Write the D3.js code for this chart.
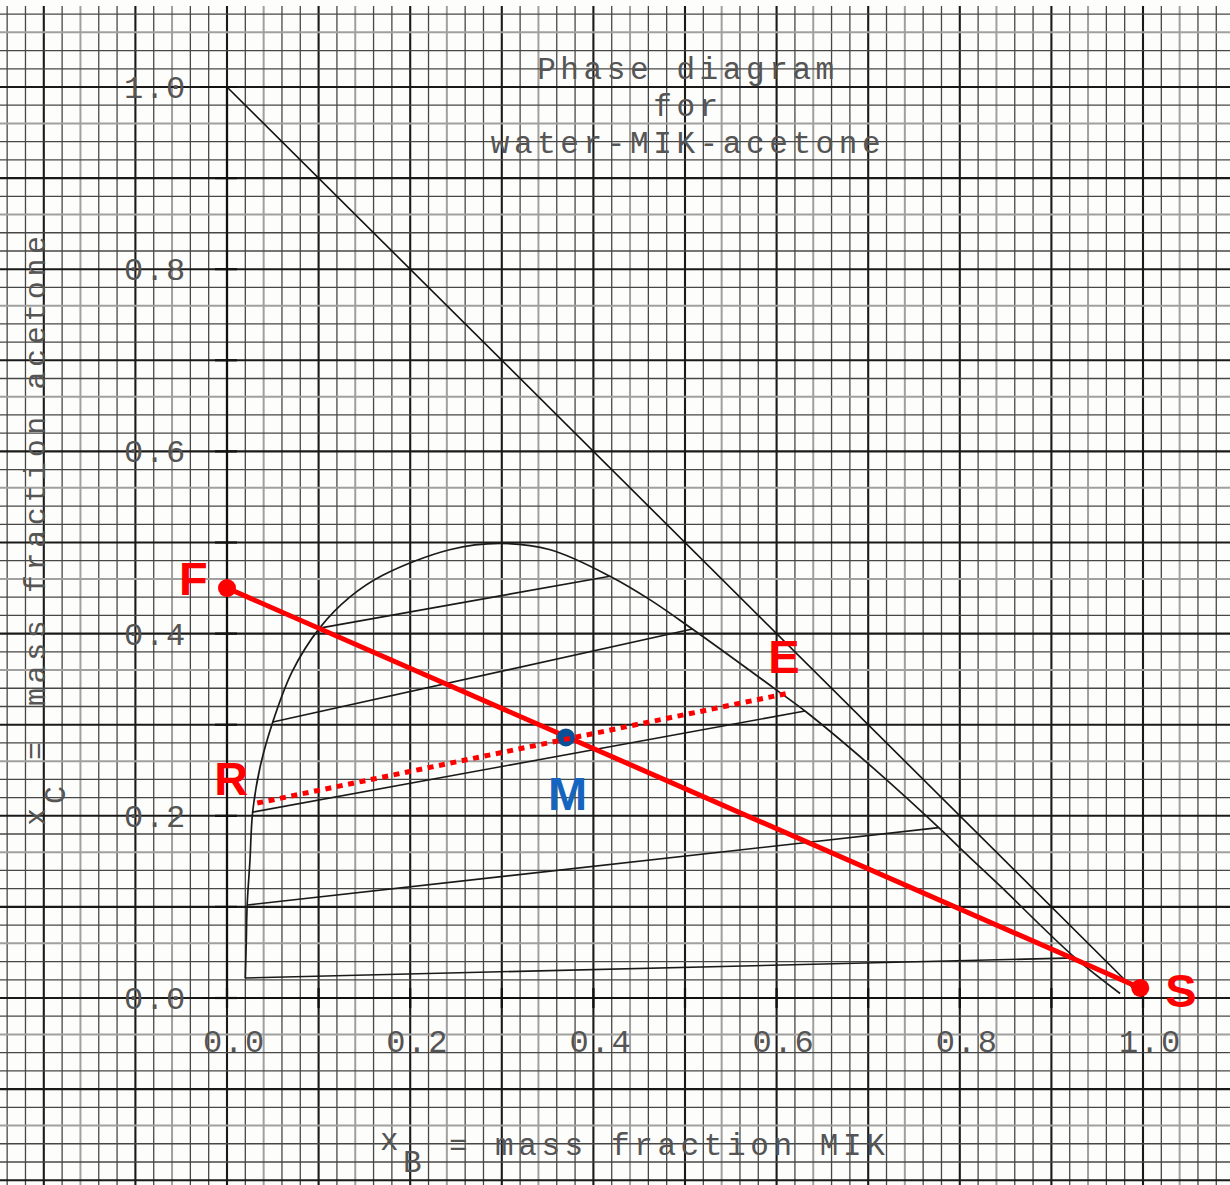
<!DOCTYPE html>
<html>
<head>
<meta charset="utf-8">
<script src="https://cdn.jsdelivr.net/npm/d3@7/dist/d3.min.js"></script>
<style>
  html, body { margin: 0; padding: 0; background: #fdfdfb; }
  svg { display: block; }
</style>
</head>
<body>
<svg id="chart" width="1230" height="1185"></svg>
<script>
// ---------------- DATA ----------------
const titleLines = ["Phase diagram", "for", "water-MIK-acetone"];
const xTickValues = [0, 0.2, 0.4, 0.6, 0.8, 1.0];
const xTickLabels = ["0.0", "0.2", "0.4", "0.6", "0.8", "1.0"];
const yTickValues = [0, 0.2, 0.4, 0.6, 0.8, 1.0];
const yTickLabels = ["0.0", "0.2", "0.4", "0.6", "0.8", "1.0"];

// binodal (solubility) curve
const binodalX = [0.020, 0.021, 0.022, 0.025, 0.028, 0.036, 0.050, 0.071, 0.101, 0.134, 0.170, 0.243, 0.298, 0.353, 0.418, 0.462, 0.508, 0.600, 0.631, 0.699, 0.777, 0.806, 0.844, 0.926, 0.975];
const binodalY = [0.022, 0.060, 0.102, 0.150, 0.204, 0.253, 0.303, 0.358, 0.406, 0.440, 0.464, 0.492, 0.499, 0.492, 0.463, 0.437, 0.405, 0.338, 0.315, 0.258, 0.187, 0.159, 0.123, 0.044, 0.005];

// tie lines: raffinate end (left) -> extract end (right)
const tieLeftX  = [0.020, 0.022, 0.028, 0.050, 0.101];
const tieLeftY  = [0.022, 0.102, 0.204, 0.303, 0.406];
const tieRightX = [0.926, 0.777, 0.631, 0.508, 0.418];
const tieRightY = [0.044, 0.187, 0.315, 0.405, 0.463];

// operating points
const pointNames = ["F", "S", "M", "R", "E"];
const pointX = [0.000, 0.997, 0.370, 0.033, 0.615];
const pointY = [0.450, 0.011, 0.286, 0.214, 0.335];

// ---------------- SCALES ----------------
const W = 1230, H = 1185;
const x = d3.scaleLinear().domain([0, 1]).range([227, 1143]);
const y = d3.scaleLinear().domain([0, 1]).range([998, 87]);

const svg = d3.select("#chart");
const P = {};
pointNames.forEach((n, i) => P[n] = [pointX[i], pointY[i]]);

// ---------------- GRAPH PAPER ----------------
const xMin = x.invert(0), xMax = x.invert(W);
const yMin = y.invert(H), yMax = y.invert(6);
const gStep = 0.02;
const vLines = d3.range(Math.ceil(xMin / gStep), Math.floor(xMax / gStep) + 1);
const hLines = d3.range(Math.ceil(yMin / gStep), Math.floor(yMax / gStep) + 1);
const mod5 = k => ((k % 5) + 5) % 5;
const lineColor = (k, lightMod) => mod5(k) === 0 ? "#1a1a1a" : (mod5(k) === lightMod ? "#a0a0a0" : "#474747");
const lineWidth = (k, lightMod) => mod5(k) === 0 ? 2.1 : (mod5(k) === lightMod ? 2 : 1.3);

const grid = svg.append("g").attr("class", "grid");
grid.selectAll("line.v").data(vLines).join("line").attr("class", "v")
  .attr("x1", k => x(k * gStep)).attr("x2", k => x(k * gStep))
  .attr("y1", 6).attr("y2", H)
  .attr("stroke", k => lineColor(k, 2))
  .attr("stroke-width", k => lineWidth(k, 2));
grid.selectAll("line.h").data(hLines).join("line").attr("class", "h")
  .attr("y1", k => y(k * gStep)).attr("y2", k => y(k * gStep))
  .attr("x1", 0).attr("x2", W)
  .attr("stroke", k => lineColor(k, 3))
  .attr("stroke-width", k => lineWidth(k, 3));

// ---------------- AXES ----------------
const axisG = svg.append("g").attr("stroke", "#111").attr("stroke-width", 2.2);
axisG.append("line").attr("x1", x(0)).attr("x2", x(0)).attr("y1", y(0)).attr("y2", y(1));
axisG.append("line").attr("x1", x(0) - 25).attr("x2", x(1)).attr("y1", y(0)).attr("y2", y(0));
const minorTicks = d3.range(0, 11).map(i => i / 10);
axisG.selectAll("line.yt").data(minorTicks).join("line").attr("class", "yt")
  .attr("x1", d => x(0) - (d === 1 ? 27 : 12)).attr("x2", x(0) + 10)
  .attr("y1", d => y(d)).attr("y2", d => y(d));
axisG.selectAll("line.xt").data(minorTicks).join("line").attr("class", "xt")
  .attr("y1", y(0) - 10).attr("y2", y(0) + 10)
  .attr("x1", d => x(d)).attr("x2", d => x(d));

// tick labels (typewriter style)
const mono = "'Courier New', 'Liberation Mono', 'DejaVu Sans Mono', monospace";
svg.append("g").selectAll("text").data(yTickValues).join("text")
  .attr("x", 124).attr("y", d => y(d) + 11)
  .attr("font-family", mono).attr("font-size", 32).attr("letter-spacing", 1.8)
  .attr("fill", "#555")
  .text((d, i) => yTickLabels[i]);
svg.append("g").selectAll("text").data(xTickValues).join("text")
  .attr("x", d => x(d) - 24).attr("y", 1052)
  .attr("font-family", mono).attr("font-size", 32).attr("letter-spacing", 1.8)
  .attr("fill", "#555")
  .text((d, i) => xTickLabels[i]);

// title
svg.append("g").selectAll("text").data(titleLines).join("text")
  .attr("x", 688).attr("y", (d, i) => 79 + i * 37)
  .attr("text-anchor", "middle")
  .attr("font-family", mono).attr("font-size", 31).attr("letter-spacing", 4.6)
  .attr("fill", "#555")
  .text(d => d);

// x axis label (typewriter subscript: B typed in the next cell, half a line down)
const xl = svg.append("g").attr("font-family", mono).attr("font-size", 31)
  .attr("letter-spacing", 4.6).attr("fill", "#555");
xl.append("text").attr("x", 380).attr("y", 1150).text("x");
xl.append("text").attr("x", 403).attr("y", 1172).text("B");
xl.append("text").attr("x", 449).attr("y", 1155).text("=");
xl.append("text").attr("x", 495).attr("y", 1155).text("mass fraction MIK");

// y axis label (rotated)
const yl = svg.append("g").attr("transform", "translate(45,826) rotate(-90)")
  .attr("font-family", mono).attr("font-size", 30)
  .attr("letter-spacing", 4.6).attr("fill", "#555");
yl.append("text").attr("x", 0).attr("y", 0).text("x");
yl.append("text").attr("x", 22).attr("y", 20).text("C");
yl.append("text").attr("x", 66).attr("y", 0).text("=");
yl.append("text").attr("x", 120).attr("y", 0).text("mass fraction acetone");

// ---------------- PHASE DIAGRAM ----------------
// hypotenuse of the right triangle
svg.append("line")
  .attr("x1", x(0)).attr("y1", y(1)).attr("x2", x(1)).attr("y2", y(0))
  .attr("stroke", "#111").attr("stroke-width", 1.6);

// binodal curve
const binodal = binodalX.map((v, i) => [v, binodalY[i]]);
svg.append("path").datum(binodal)
  .attr("fill", "none").attr("stroke", "#1a1a1a").attr("stroke-width", 1.7)
  .attr("d", d3.line().x(d => x(d[0])).y(d => y(d[1])).curve(d3.curveCatmullRom.alpha(0.5)));

// tie lines
const ties = tieLeftX.map((v, i) => ({ x1: v, y1: tieLeftY[i], x2: tieRightX[i], y2: tieRightY[i] }));
svg.append("g").selectAll("line").data(ties).join("line")
  .attr("x1", d => x(d.x1)).attr("y1", d => y(d.y1))
  .attr("x2", d => x(d.x2)).attr("y2", d => y(d.y2))
  .attr("stroke", "#1a1a1a").attr("stroke-width", 1.6);

// F - S mixing line
svg.append("line")
  .attr("x1", x(P.F[0])).attr("y1", y(P.F[1])).attr("x2", x(P.S[0])).attr("y2", y(P.S[1]))
  .attr("stroke", "#ff0000").attr("stroke-width", 5);

// F and S dots
svg.append("g").selectAll("circle").data(["F", "S"]).join("circle")
  .attr("cx", n => x(P[n][0])).attr("cy", n => y(P[n][1])).attr("r", 9)
  .attr("fill", "#ff0000");

// M dot
svg.append("circle").attr("cx", x(P.M[0])).attr("cy", y(P.M[1])).attr("r", 9)
  .attr("fill", "#0b4f96");

// R - E dotted line
svg.append("line")
  .attr("x1", x(P.R[0])).attr("y1", y(P.R[1])).attr("x2", x(P.E[0])).attr("y2", y(P.E[1]))
  .attr("stroke", "#ff0000").attr("stroke-width", 5).attr("stroke-dasharray", "6,5.6");

// point labels
const labelOffsets = { F: [-48, 7], S: [25, 19], M: [-18, 73], R: [-43, -8], E: [-22, -20] };
svg.append("g").selectAll("text").data(pointNames).join("text")
  .attr("x", n => x(P[n][0]) + labelOffsets[n][0])
  .attr("y", n => y(P[n][1]) + labelOffsets[n][1])
  .attr("font-family", "'Liberation Sans', Arial, Helvetica, sans-serif")
  .attr("font-weight", "bold").attr("font-size", 47)
  .attr("fill", n => n === "M" ? "#1565c0" : "#ff0000")
  .text(n => n);
</script>
</body>
</html>
